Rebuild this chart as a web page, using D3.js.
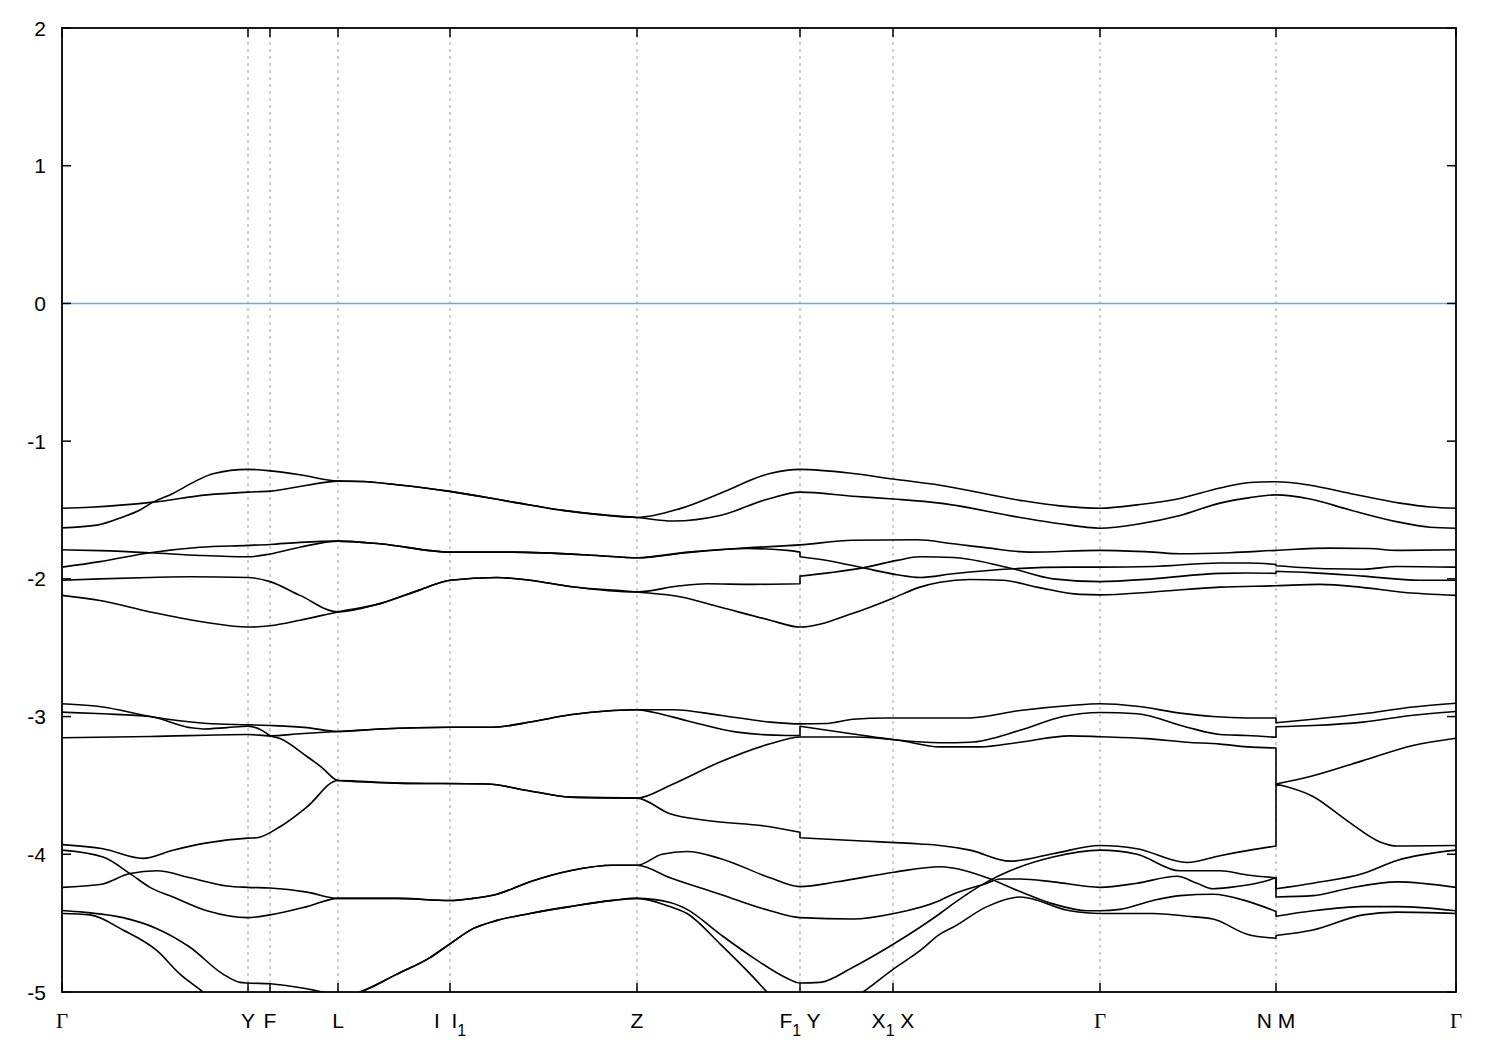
<!DOCTYPE html>
<html><head><meta charset="utf-8">
<script src="https://cdn.jsdelivr.net/npm/d3@7"></script>
<style>
body{margin:0;background:#fff}
text{font-family:"Liberation Sans",Arial,sans-serif;fill:#000}
</style>
</head><body>
<svg id="c" width="1500" height="1050"></svg>
<script>
// High-symmetry k positions (path distance, arbitrary units) and labels
const symK = [0, 1.86, 2.08, 2.76, 3.88, 5.75, 7.38, 8.31, 10.38, 12.14, 13.94];
const xTickLabels = ["Γ", "Y", "F", "L", "I  I_1", "Z", "F_1 Y", "X_1 X", "Γ", "N M", "Γ"];
const yTicks = [-5, -4, -3, -2, -1, 0, 1, 2];
const fermiLevel = 0;
const kRange = [0, 13.94];
const eRange = [-5, 2];

// Bands: [k, E(eV)]; a repeated k marks a discontinuity (jump)
const bandA1 = [[0,-1.63],[0.35,-1.61],[0.61,-1.55],[0.78,-1.50],[0.91,-1.443],[1.11,-1.38],[1.35,-1.285],[1.51,-1.237],[1.86,-1.205],[2.11,-1.218],[2.38,-1.244],[2.76,-1.29],[3.01,-1.293],[3.35,-1.317],[3.88,-1.365],[4.51,-1.443],[5.01,-1.503],[5.35,-1.532],[5.75,-1.554],[6.18,-1.49],[6.58,-1.38],[7.08,-1.235],[7.38,-1.205],[7.91,-1.235],[8.31,-1.275],[8.78,-1.32],[9.58,-1.43],[9.98,-1.47],[10.38,-1.487],[10.78,-1.46],[11.18,-1.416],[11.58,-1.34],[11.88,-1.30],[12.14,-1.295],[12.48,-1.32],[12.88,-1.38],[13.38,-1.45],[13.68,-1.478],[13.94,-1.487]];
const bandA2 = [[0,-1.487],[0.28,-1.48],[0.91,-1.443],[1.45,-1.39],[1.86,-1.37],[2.08,-1.363],[2.45,-1.32],[2.76,-1.29],[3.01,-1.293],[3.35,-1.317],[3.88,-1.365],[4.51,-1.443],[5.01,-1.503],[5.35,-1.532],[5.75,-1.554],[6.11,-1.58],[6.58,-1.54],[7.08,-1.416],[7.38,-1.37],[7.91,-1.40],[8.31,-1.42],[8.78,-1.45],[9.58,-1.554],[9.98,-1.60],[10.38,-1.632],[10.78,-1.60],[11.18,-1.54],[11.58,-1.45],[11.88,-1.41],[12.14,-1.39],[12.48,-1.42],[12.88,-1.50],[13.38,-1.59],[13.68,-1.625],[13.94,-1.632]];
const bandB1 = [[0,-1.789],[0.38,-1.795],[0.88,-1.81],[1.38,-1.83],[1.86,-1.84],[2.08,-1.82],[2.38,-1.77],[2.76,-1.726],[3.18,-1.745],[3.88,-1.806],[4.51,-1.806],[5.35,-1.83],[5.75,-1.847],[6.25,-1.806],[6.85,-1.775],[7.38,-1.753],[7.91,-1.72],[8.55,-1.716],[8.91,-1.745],[9.25,-1.775],[9.68,-1.806],[10.38,-1.793],[10.91,-1.806],[11.18,-1.818],[11.68,-1.81],[12.14,-1.793],[12.68,-1.777],[13.08,-1.78],[13.35,-1.793],[13.94,-1.789]];
const bandB2 = [[0,-1.915],[0.38,-1.875],[0.88,-1.81],[1.38,-1.77],[1.86,-1.757],[2.08,-1.75],[2.38,-1.735],[2.76,-1.726],[3.18,-1.745],[3.88,-1.806],[4.51,-1.806],[5.35,-1.83],[5.75,-1.847],[6.25,-1.81],[6.85,-1.78],[7.28,-1.795],[7.38,-1.806],[7.38,-1.84],[7.68,-1.87],[8.01,-1.92],[8.35,-1.97],[8.58,-1.99],[8.91,-1.963],[9.51,-1.927],[10.08,-1.915],[10.38,-1.915],[10.91,-1.91],[11.58,-1.885],[11.85,-1.885],[12.14,-1.895],[12.14,-1.905],[12.68,-1.927],[13.01,-1.93],[13.35,-1.91],[13.94,-1.915]];
const bandB3 = [[0,-2.01],[0.38,-2.0],[0.88,-1.99],[1.28,-1.985],[1.86,-1.99],[2.08,-2.02],[2.38,-2.12],[2.76,-2.24],[3.18,-2.18],[3.58,-2.08],[3.88,-2.01],[4.35,-1.99],[4.68,-2.01],[5.08,-2.055],[5.75,-2.095],[6.18,-2.05],[6.45,-2.036],[6.91,-2.04],[7.38,-2.036],[7.38,-1.98],[7.68,-1.955],[8.01,-1.92],[8.35,-1.866],[8.58,-1.84],[8.91,-1.845],[9.51,-1.927],[9.91,-2.0],[10.38,-2.02],[10.91,-2.0],[11.58,-1.96],[11.85,-1.958],[12.14,-1.96],[12.14,-1.945],[12.48,-1.955],[13.01,-1.98],[13.58,-2.01],[13.94,-2.01]];
const bandB4 = [[0,-2.12],[0.38,-2.157],[0.88,-2.24],[1.38,-2.31],[1.86,-2.35],[2.08,-2.34],[2.38,-2.30],[2.76,-2.24],[3.18,-2.18],[3.58,-2.08],[3.88,-2.01],[4.35,-1.99],[4.68,-2.01],[5.08,-2.055],[5.75,-2.095],[6.18,-2.13],[6.58,-2.205],[7.08,-2.30],[7.38,-2.35],[7.91,-2.25],[8.31,-2.14],[8.58,-2.06],[8.78,-2.025],[9.08,-2.005],[9.41,-2.01],[9.75,-2.06],[10.18,-2.113],[10.38,-2.116],[10.91,-2.095],[11.58,-2.06],[12.14,-2.05],[12.58,-2.04],[12.98,-2.06],[13.38,-2.095],[13.94,-2.12]];
const bandC1 = [[0,-2.907],[0.41,-2.93],[0.88,-3.0],[1.45,-3.05],[1.86,-3.06],[2.08,-3.065],[2.45,-3.08],[2.76,-3.108],[3.18,-3.09],[3.88,-3.077],[4.31,-3.077],[4.68,-3.04],[5.08,-2.987],[5.51,-2.956],[5.75,-2.95],[6.11,-2.95],[6.58,-2.99],[7.08,-3.04],[7.38,-3.053],[7.65,-3.05],[7.91,-3.02],[8.25,-3.01],[8.78,-3.01],[9.08,-3.01],[9.58,-2.956],[10.08,-2.92],[10.38,-2.907],[10.75,-2.925],[11.18,-2.975],[11.51,-3.0],[11.85,-3.01],[12.14,-3.01],[12.14,-3.045],[12.51,-3.02],[13.01,-2.98],[13.51,-2.93],[13.94,-2.903]];
const bandC2 = [[0,-2.968],[0.41,-2.98],[0.88,-3.0],[1.28,-3.08],[1.41,-3.09],[1.65,-3.08],[1.86,-3.07],[2.0,-3.10],[2.08,-3.137],[2.18,-3.16],[2.45,-3.29],[2.6,-3.37],[2.76,-3.464],[3.35,-3.483],[4.25,-3.49],[4.68,-3.54],[5.08,-3.585],[5.75,-3.592],[6.08,-3.50],[6.58,-3.33],[7.08,-3.198],[7.38,-3.148],[7.91,-3.148],[8.35,-3.17],[8.78,-3.22],[9.18,-3.22],[9.58,-3.186],[10.08,-3.14],[10.38,-3.146],[10.85,-3.16],[11.25,-3.186],[11.58,-3.2],[11.85,-3.22],[12.14,-3.228],[12.14,-3.49],[12.51,-3.43],[13.01,-3.32],[13.51,-3.21],[13.94,-3.157]];
const bandC3 = [[0,-3.154],[0.88,-3.145],[1.86,-3.13],[2.08,-3.14],[2.38,-3.125],[2.76,-3.108],[3.18,-3.09],[3.88,-3.077],[4.31,-3.077],[4.68,-3.04],[5.08,-2.987],[5.51,-2.956],[5.75,-2.95],[5.91,-2.968],[6.25,-3.03],[6.75,-3.113],[7.25,-3.137],[7.38,-3.137],[7.38,-3.07],[7.91,-3.126],[8.35,-3.17],[8.78,-3.19],[9.08,-3.186],[9.58,-3.10],[10.01,-3.0],[10.38,-2.97],[10.75,-2.98],[11.25,-3.077],[11.58,-3.13],[11.85,-3.137],[12.14,-3.15],[12.14,-3.074],[12.51,-3.065],[13.01,-3.04],[13.51,-2.99],[13.94,-2.963]];
const bandC4 = [[0,-3.93],[0.41,-3.96],[0.81,-4.03],[1.11,-3.97],[1.45,-3.917],[1.86,-3.883],[1.95,-3.88],[2.18,-3.80],[2.45,-3.656],[2.76,-3.464],[3.35,-3.483],[4.25,-3.49],[4.68,-3.54],[5.08,-3.585],[5.75,-3.592],[6.08,-3.706],[6.45,-3.755],[7.08,-3.80],[7.38,-3.84],[7.38,-3.88],[7.91,-3.90],[8.58,-3.925],[8.78,-3.936],[9.08,-3.97],[9.48,-4.05],[9.91,-3.996],[10.38,-3.936],[10.75,-3.96],[11.25,-4.06],[11.58,-4.01],[11.88,-3.97],[12.14,-3.94],[12.14,-3.49],[12.51,-3.58],[12.85,-3.755],[13.18,-3.91],[13.35,-3.94],[13.94,-3.936]];
const bandD1 = [[0,-3.97],[0.41,-4.02],[0.68,-4.14],[0.88,-4.24],[1.11,-4.31],[1.45,-4.41],[1.86,-4.46],[2.08,-4.44],[2.45,-4.38],[2.76,-4.32],[3.35,-4.32],[3.88,-4.336],[4.11,-4.32],[4.35,-4.29],[4.68,-4.20],[5.08,-4.12],[5.51,-4.08],[5.75,-4.08],[6.0,-4.0],[6.25,-3.98],[6.58,-4.03],[7.08,-4.17],[7.38,-4.235],[7.75,-4.2],[8.32,-4.13],[8.78,-4.09],[8.91,-4.10],[9.25,-4.17],[9.58,-4.27],[9.91,-4.36],[10.25,-4.41],[10.38,-4.41],[10.58,-4.40],[10.91,-4.335],[11.18,-4.30],[11.51,-4.29],[11.85,-4.34],[12.14,-4.415],[12.14,-4.45],[12.51,-4.41],[13.01,-4.38],[13.35,-4.38],[13.94,-4.41]];
const bandD2 = [[0,-4.24],[0.38,-4.22],[0.68,-4.14],[0.95,-4.12],[1.28,-4.17],[1.65,-4.23],[1.86,-4.24],[2.08,-4.245],[2.45,-4.275],[2.76,-4.32],[3.35,-4.32],[3.88,-4.336],[4.11,-4.32],[4.35,-4.29],[4.68,-4.20],[5.08,-4.12],[5.51,-4.08],[5.75,-4.08],[6.08,-4.17],[6.58,-4.29],[7.08,-4.41],[7.38,-4.46],[7.91,-4.47],[8.32,-4.43],[8.78,-4.335],[8.91,-4.29],[9.25,-4.21],[9.38,-4.18],[9.58,-4.18],[9.91,-4.2],[10.38,-4.24],[10.75,-4.21],[11.15,-4.16],[11.35,-4.21],[11.51,-4.25],[11.68,-4.24],[12.01,-4.2],[12.14,-4.17],[12.14,-4.31],[12.51,-4.30],[12.85,-4.25],[13.35,-4.2],[13.94,-4.24]];
const bandD3 = [[0,-4.408],[0.21,-4.42],[0.61,-4.46],[0.95,-4.54],[1.28,-4.675],[1.61,-4.87],[1.78,-4.93],[1.86,-4.935],[2.08,-4.94],[2.45,-4.977],[2.61,-5.0],[2.76,-5.03],[2.98,-5.0],[3.35,-4.87],[3.68,-4.75],[3.88,-4.65],[4.11,-4.54],[4.35,-4.48],[4.68,-4.43],[5.08,-4.38],[5.51,-4.335],[5.75,-4.32],[6.08,-4.35],[6.25,-4.40],[6.58,-4.58],[6.91,-4.75],[7.25,-4.90],[7.38,-4.935],[7.58,-4.93],[7.91,-4.82],[8.32,-4.65],[8.58,-4.53],[8.78,-4.43],[8.91,-4.36],[9.25,-4.20],[9.48,-4.12],[9.91,-4.02],[10.38,-3.97],[10.75,-4.0],[11.18,-4.12],[11.58,-4.12],[11.85,-4.15],[12.14,-4.17],[12.14,-4.25],[12.51,-4.21],[13.01,-4.14],[13.35,-4.045],[13.94,-3.97]];
const bandD4 = [[0,-4.43],[0.28,-4.44],[0.61,-4.55],[0.95,-4.70],[1.18,-4.87],[1.41,-5.0],[1.7,-5.2],[2.2,-5.3],[2.6,-5.15],[2.76,-5.06],[2.98,-5.0],[3.35,-4.87],[3.68,-4.75],[3.88,-4.65],[4.11,-4.54],[4.35,-4.48],[4.68,-4.43],[5.08,-4.38],[5.51,-4.335],[5.75,-4.32],[6.08,-4.38],[6.25,-4.43],[6.58,-4.65],[6.91,-4.89],[7.05,-5.0],[7.38,-5.2],[7.68,-5.15],[8.01,-5.0],[8.32,-4.83],[8.58,-4.70],[8.78,-4.58],[8.91,-4.53],[9.25,-4.38],[9.58,-4.31],[10.08,-4.41],[10.38,-4.43],[10.91,-4.43],[11.25,-4.45],[11.51,-4.47],[11.85,-4.58],[12.14,-4.61],[12.14,-4.59],[12.51,-4.55],[13.01,-4.44],[13.35,-4.42],[13.94,-4.43]];

const bands = [bandA1, bandA2, bandB1, bandB2, bandB3, bandB4, bandC1, bandC2, bandC3, bandC4, bandD1, bandD2, bandD3, bandD4];

// ---- drawing ----
const PL = 62, PR = 1456, PT = 28, PB = 992;
const x = d3.scaleLinear().domain(kRange).range([PL, PR]);
const y = d3.scaleLinear().domain(eRange).range([PB, PT]);
const svg = d3.select("#c");

svg.append("defs").append("clipPath").attr("id", "clip")
  .append("rect").attr("x", PL).attr("y", PT).attr("width", PR - PL).attr("height", PB - PT);

// vertical dashed lines at interior symmetry points
svg.append("g").selectAll("line").data(symK.slice(1, -1)).join("line")
  .attr("x1", d => x(d)).attr("x2", d => x(d)).attr("y1", PT).attr("y2", PB)
  .attr("stroke", "#a0a0a0").attr("stroke-width", 1).attr("stroke-dasharray", "3,4");

// Fermi level
svg.append("line").attr("x1", PL).attr("x2", PR).attr("y1", y(fermiLevel)).attr("y2", y(fermiLevel))
  .attr("stroke", "#56b4e9").attr("stroke-width", 1.5);

// bands
const line = d3.line().x(d => x(d[0])).y(d => y(d[1])).curve(d3.curveMonotoneX);
function bandPath(pts) {
  const segs = [];
  let cur = [pts[0]];
  for (let i = 1; i < pts.length; i++) {
    if (pts[i][0] === pts[i - 1][0]) { segs.push(cur); cur = [pts[i]]; }
    else cur.push(pts[i]);
  }
  segs.push(cur);
  return segs.map((s, i) => {
    const p = s.length > 1 ? line(s) : `M${x(s[0][0])},${y(s[0][1])}`;
    return i === 0 ? p : "L" + p.slice(1);
  }).join("");
}
svg.append("g").attr("clip-path", "url(#clip)").selectAll("path").data(bands).join("path")
  .attr("d", bandPath).attr("fill", "none").attr("stroke", "#000").attr("stroke-width", 1.6)
  .attr("stroke-linejoin", "round");

// frame
svg.append("rect").attr("x", PL).attr("y", PT).attr("width", PR - PL).attr("height", PB - PT)
  .attr("fill", "none").attr("stroke", "#000").attr("stroke-width", 1.8);

// y ticks (mirrored) and labels
const tl = 9;
const gy = svg.append("g");
yTicks.forEach(v => {
  gy.append("line").attr("x1", PL).attr("x2", PL + tl).attr("y1", y(v)).attr("y2", y(v)).attr("stroke", "#000").attr("stroke-width", 1.5);
  gy.append("line").attr("x1", PR - tl).attr("x2", PR).attr("y1", y(v)).attr("y2", y(v)).attr("stroke", "#000").attr("stroke-width", 1.5);
  gy.append("text").attr("x", 46).attr("y", y(v)).attr("dy", "0.36em").attr("text-anchor", "end")
    .attr("font-size", 21).text(v);
});

// x ticks (mirrored) and labels
const gx = svg.append("g");
symK.forEach((k, i) => {
  gx.append("line").attr("x1", x(k)).attr("x2", x(k)).attr("y1", PB).attr("y2", PB - tl).attr("stroke", "#000").attr("stroke-width", 1.5);
  gx.append("line").attr("x1", x(k)).attr("x2", x(k)).attr("y1", PT).attr("y2", PT + tl).attr("stroke", "#000").attr("stroke-width", 1.5);
  const t = gx.append("text").attr("x", x(k)).attr("y", 1028).attr("text-anchor", "middle")
    .attr("font-size", 21).style("white-space", "pre");
  const lab = xTickLabels[i];
  if (lab === "Γ") { t.style("font-family", "'Liberation Serif','DejaVu Serif',serif").text(lab); return; }
  const parts = lab.split(/_(\w)/);
  parts.forEach((p, j) => {
    if (j % 2 === 0) { if (p.length) t.append("tspan").attr("dy", j ? -8 : 0).text(p); }
    else t.append("tspan").attr("font-size", 16).attr("dy", 8).text(p);
  });
});
</script>
</body></html>
